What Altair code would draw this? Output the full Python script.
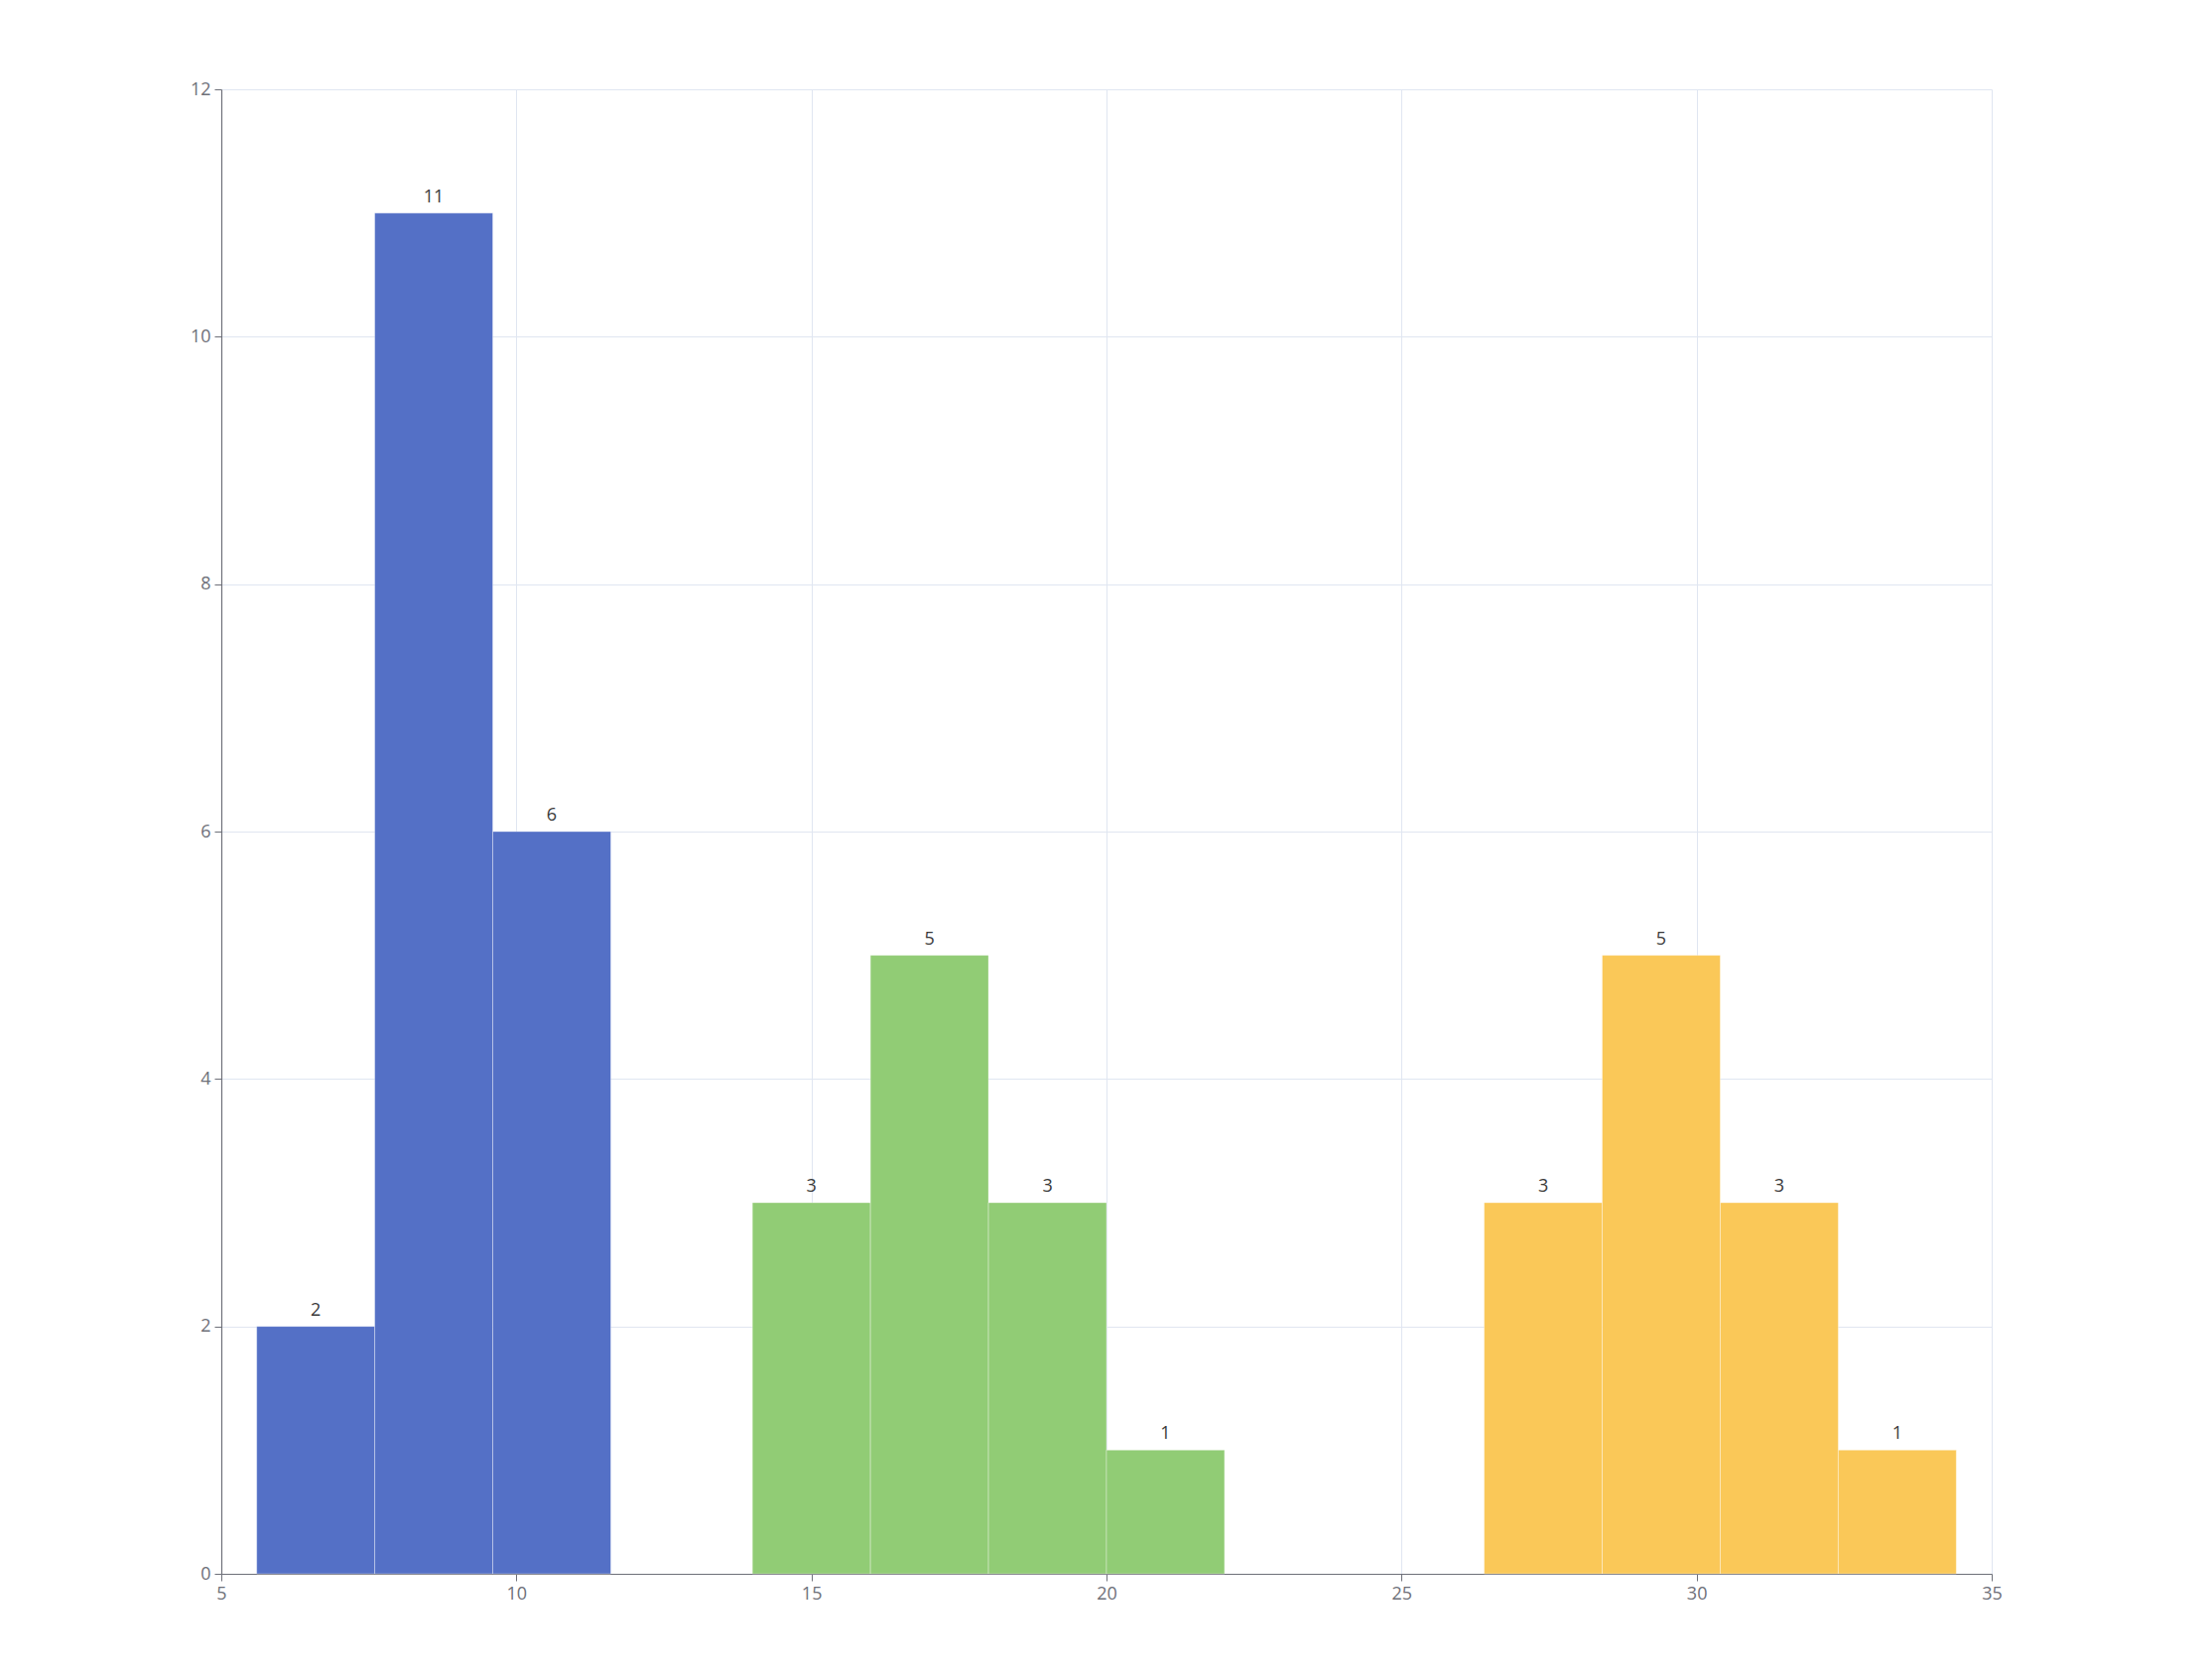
import altair as alt
import pandas as pd

bin_start = [5.6, 7.6, 9.6, 14.0, 16.0, 18.0, 20.0, 26.4, 28.4, 30.4, 32.4]
bin_end = [7.6, 9.6, 11.6, 16.0, 18.0, 20.0, 22.0, 28.4, 30.4, 32.4, 34.4]
counts = [2, 11, 6, 3, 5, 3, 1, 3, 5, 3, 1]
groups = ["A", "A", "A", "B", "B", "B", "B", "C", "C", "C", "C"]
group_names = ["A", "B", "C"]
group_colors = ["#5470c6", "#91cc75", "#fac858"]
x_ticks = [5, 10, 15, 20, 25, 30, 35]
y_ticks = [0, 2, 4, 6, 8, 10, 12]

df = pd.DataFrame({"start": bin_start, "end": bin_end, "count": counts, "group": groups})
df["mid"] = (df["start"] + df["end"]) / 2
df["base"] = 0

FONT = "Open Sans"

x = alt.X("start:Q", scale=alt.Scale(domain=[5, 35], nice=False, zero=False),
          axis=alt.Axis(values=x_ticks, format="d", title=None, labelFontSize=18, tickSize=7,
                        labelPadding=4, grid=True, labelFlush=False))
y = alt.Y("count:Q", scale=alt.Scale(domain=[0, 12], nice=False),
          axis=alt.Axis(values=y_ticks, format="d", title=None, labelFontSize=18, tickSize=7,
                        labelPadding=4, grid=True, labelFlush=False))

bars = alt.Chart(df).mark_bar(stroke="#ffffff", strokeWidth=1, strokeOpacity=0.35).encode(
    x=x,
    x2="end:Q",
    y=y,
    y2="base:Q",
    color=alt.Color("group:N", scale=alt.Scale(domain=group_names, range=group_colors), legend=None),
)

labels = alt.Chart(df).mark_text(baseline="alphabetic", dy=-11, fontSize=18, color="#3a3a3a", font=FONT).encode(
    x=alt.X("mid:Q"),
    y=alt.Y("count:Q"),
    text="count:Q",
)

chart = (bars + labels).properties(
    width=1784, height=1496,
    autosize=alt.AutoSizeParams(type="none"),
    padding={"left": 215, "top": 82, "right": 200, "bottom": 80},
).configure_view(stroke=None).configure_axis(
    domainColor="#6E7079", tickColor="#6E7079", labelColor="#6E7079",
    gridColor="#E0E6F1", labelFont=FONT, domainWidth=1.2,
)

chart.save("out.html", embed_options={"renderer": "svg", "actions": False})
